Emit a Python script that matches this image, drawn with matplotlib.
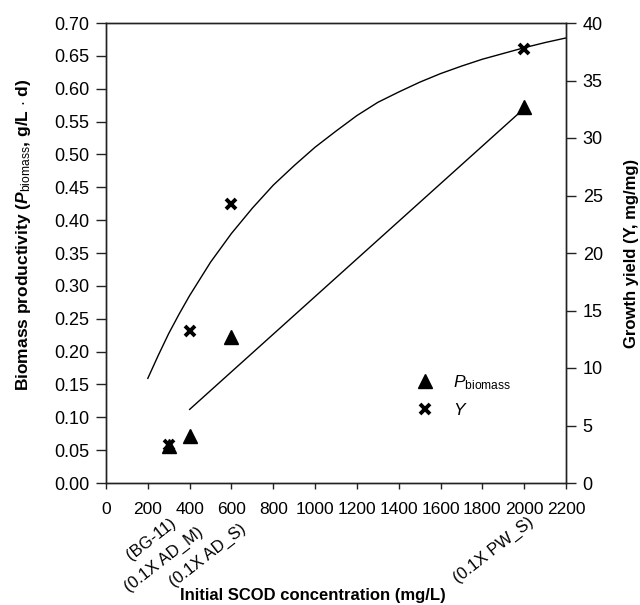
import numpy as np
import matplotlib
matplotlib.use("Agg")
import matplotlib.pyplot as plt
from matplotlib.lines import Line2D

plt.rcParams['font.family'] = ['Liberation Sans', 'DejaVu Sans']
plt.rcParams['mathtext.fontset'] = 'custom'
plt.rcParams['mathtext.rm'] = 'Liberation Sans'
plt.rcParams['mathtext.it'] = 'Liberation Sans:italic'
plt.rcParams['mathtext.bf'] = 'Liberation Sans:bold'
plt.rcParams['mathtext.bfit'] = 'Liberation Sans:italic:bold'

# measured points
scod = [300, 400, 600, 2000]
p_biomass = [0.057, 0.072, 0.222, 0.572]
yield_y = [3.3, 13.2, 24.3, 37.7]
medium_labels = ['(BG-11)', '(0.1X AD_M)', '(0.1X AD_S)', '(0.1X PW_S)']

# fitted curves
fit_p_x = [400, 2000]
fit_p_y = [0.112, 0.570]
fit_y_x = [200, 250, 300, 350, 400, 500, 600, 700, 800, 900, 1000, 1100, 1200,
           1300, 1400, 1500, 1600, 1700, 1800, 1900, 2000, 2100, 2200]
fit_y_y = [9.1, 11.1, 13.0, 14.7, 16.3, 19.2, 21.7, 23.9, 25.9, 27.6, 29.2, 30.6,
           31.95, 33.1, 34.0, 34.85, 35.6, 36.25, 36.85, 37.35, 37.85, 38.3, 38.7]

# where each medium label sits relative to its tick (points)
label_offsets = [(0.5, -23), (5.5, -30), (5.5, -27.5), (2.5, -22.5)]

fig = plt.figure(figsize=(6.4, 6.05), dpi=100)
ax = fig.add_axes([106/640, 1 - 483/605, 460/640, 460/605])
ax2 = ax.twinx()

ax.plot(fit_p_x, fit_p_y, color='black', lw=1.0)
ax.plot(scod, p_biomass, linestyle='none', marker='^', ms=10, color='black')
ax2.plot(fit_y_x, fit_y_y, color='black', lw=1.0)
ax2.plot(scod, yield_y, linestyle='none', marker='x', ms=7.5, mew=2.8, color='black')

ax.set_xlim(0, 2200)
ax.set_ylim(0, 0.70)
ax2.set_ylim(0, 40)
ax.set_xticks(np.arange(0, 2201, 200))
ax.set_yticks(np.arange(0, 0.701, 0.05))
ax.set_yticklabels([f'{v:.2f}' for v in np.arange(0, 0.701, 0.05)])
ax2.set_yticks(np.arange(0, 41, 5))

for a in (ax, ax2):
    for s in a.spines.values():
        s.set_color('#222222')
        s.set_linewidth(1.0)
ax.tick_params(axis='y', direction='out', length=7, width=1, pad=5, labelsize=13, color='#222222')
ax.tick_params(axis='x', direction='out', length=4.5, width=1, pad=9, labelsize=12.5, color='#222222')
ax2.tick_params(axis='y', direction='out', length=7, width=1, pad=5, labelsize=13, color='#222222')

for x, lab, off in zip(scod, medium_labels, label_offsets):
    ax.annotate(lab, xy=(x, 0), xycoords=('data', 'axes fraction'),
                xytext=off, textcoords='offset points',
                rotation=38, rotation_mode='anchor', ha='right', va='top',
                fontsize=12)

ax.set_xlabel('Initial SCOD concentration (mg/L)', fontsize=12, fontweight='bold')
ax.xaxis.set_label_coords(0.45, -0.228)
ax.set_ylabel(r'Biomass productivity ($\mathbfit{P}_{\mathrm{biomass}}$, g/L $\cdot$ d)',
              fontsize=12.5, fontweight='bold')
ax.yaxis.set_label_coords(-0.158, 0.54)
ax2.set_ylabel('Growth yield (Y, mg/mg)', fontsize=12, fontweight='bold',
               rotation=90, labelpad=15)

handles = [Line2D([], [], linestyle='none', marker='^', ms=10, color='black'),
           Line2D([], [], linestyle='none', marker='x', ms=7.5, mew=2.8, color='black')]
ax2.legend(handles, [r'$\mathit{P}_{\mathrm{biomass}}$', r'$\mathit{Y}$'],
           loc='center left', bbox_to_anchor=(0.66, 0.19), frameon=False,
           fontsize=12.5, handlelength=1.0, handletextpad=1.1, labelspacing=0.55,
           borderaxespad=0)

fig.savefig('out.png', dpi=100)
